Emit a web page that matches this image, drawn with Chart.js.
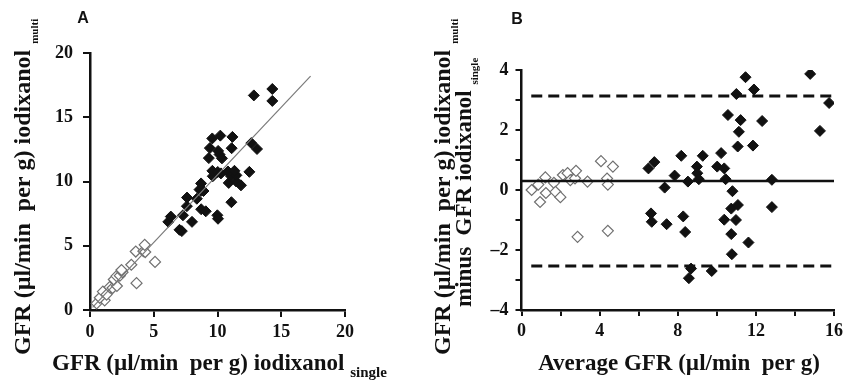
<!DOCTYPE html>
<html>
<head>
<meta charset="utf-8">
<script src="https://cdn.jsdelivr.net/npm/chart.js@4.4.1/dist/chart.umd.min.js"></script>
<style>
    body { margin: 0; background: #fff; }
    #wrap { position: relative; width: 848px; height: 383px; }
    canvas { position: absolute; top: 0; }
    #chartA { left: 0; }
    #chartB { left: 424px; }
</style>
</head>
<body>
<div id="wrap">
    <canvas id="chartA" width="424" height="383"></canvas>
    <canvas id="chartB" width="424" height="383"></canvas>
</div>
<script>
// Panel A: GFR multi vs GFR single
const singleOpen = [0.52, 1.15, 0.77, 1.01, 1.3, 1.54, 1.77, 2.11, 1.87, 2.08, 2.34, 2.55, 2.47, 3.65, 3.24, 3.59, 4.19, 4.33, 4.29, 5.1];
const multiOpen  = [0.52, 0.75, 0.95, 1.43, 1.2, 1.78, 1.71, 1.87, 2.37, 2.64, 2.67, 2.94, 3.11, 2.09, 3.52, 4.55, 4.57, 4.51, 5.07, 3.74];
const singleFilled = [6.14, 6.34, 7.02, 7.2, 7.29, 8.0, 7.6, 7.61, 8.72, 9.08, 8.38, 9.99, 10.04, 8.59, 8.72, 8.9, 8.71, 11.09, 9.63, 9.6, 10.02, 10.27,
    9.32, 10.88, 10.82, 11.05, 11.47, 11.84, 9.4, 10.16, 10.35, 10.05, 11.48, 11.33, 9.59, 12.5, 10.22, 11.11, 11.17, 12.65, 13.1, 12.85, 14.3, 14.3];
const multiFilled  = [6.86, 7.27, 6.24, 6.14, 7.37, 6.86, 8.08, 8.75, 7.84, 7.68, 8.66, 7.37, 7.1, 9.37, 9.28, 9.26, 9.85, 8.39, 10.41, 10.83, 10.74, 10.63,
    11.82, 9.89, 10.78, 10.43, 10.0, 9.7, 12.6, 12.1, 11.8, 12.38, 10.48, 10.83, 13.35, 10.75, 13.57, 12.59, 13.47, 12.99, 12.53, 16.7, 16.27, 17.2];
const fitLineX = [0.2, 17.3];
const fitLineY = [0.2, 18.2];
const ticksA = [0, 5, 10, 15, 20];

// Panel B: Bland-Altman
const avgOpen  = [0.52, 0.95, 0.86, 1.22, 1.25, 1.66, 1.74, 1.99, 2.12, 2.36, 2.5, 2.74, 2.79, 2.87, 3.38, 4.07, 4.38, 4.42, 4.68, 4.42];
const diffOpen = [0.0, -0.4, 0.18, 0.42, -0.1, 0.24, -0.06, -0.24, 0.5, 0.56, 0.33, 0.39, 0.64, -1.56, 0.28, 0.96, 0.38, 0.18, 0.78, -1.36];
const avgFilled  = [6.5, 6.8, 6.63, 6.67, 7.33, 7.43, 7.84, 8.18, 8.28, 8.38, 8.52, 8.68, 8.57, 8.98, 9.0, 9.08, 9.28, 9.74, 10.02, 10.22, 10.38, 10.45,
    10.57, 10.38, 10.8, 10.74, 10.74, 10.77, 11.0, 11.13, 11.07, 11.22, 10.98, 11.08, 11.47, 11.62, 11.9, 11.85, 12.32, 12.82, 12.82, 14.78, 15.28, 15.75];
const diffFilled = [0.72, 0.93, -0.78, -1.06, 0.08, -1.14, 0.48, 1.14, -0.88, -1.4, 0.28, -2.62, -2.94, 0.78, 0.56, 0.36, 1.14, -2.7, 0.78, 1.23, 0.72, 0.36,
    2.5, -0.99, -0.04, -0.62, -1.47, -2.14, 3.2, 1.94, 1.45, 2.33, -1.0, -0.5, 3.76, -1.75, 3.35, 1.48, 2.3, 0.34, -0.57, 3.87, 1.97, 2.9];
const meanDiff = 0.3;
const upperLoA = 3.13;
const lowerLoA = -2.53;
const ticksBx = [0, 2, 4, 6, 8, 10, 12, 14, 16];
const labelsBx = [0, 4, 8, 12, 16];
const ticksBy = [-4, -3, -2, -1, 0, 1, 2, 3, 4];
const labelsBy = [-4, -2, 0, 2, 4];

const INK = '#111';
const SERIF = '"Liberation Serif", "Times New Roman", serif';

function zip(xs, ys) {
    return xs.map((x, i) => ({ x: x, y: ys[i] }));
}

function fmt(v) {
    return v < 0 ? '\u2013' + Math.abs(v) : String(v);
}

function axis(min, max, tickList, labelList, size, tickLen, pad) {
    return {
        type: 'linear',
        min: min,
        max: max,
        afterBuildTicks: (scale) => { scale.ticks = tickList.map(v => ({ value: v })); },
        afterFit: (scale) => {
            if (scale.isHorizontal()) scale.height = size; else scale.width = size;
        },
        border: { display: true, color: INK, width: 2.5 },
        grid: { display: true, drawOnChartArea: false, drawTicks: true, tickLength: tickLen, color: INK, lineWidth: 2 },
        ticks: {
            autoSkip: false,
            maxRotation: 0,
            padding: pad,
            color: INK,
            font: { family: SERIF, size: 18, weight: 'bold' },
            callback: (v) => labelList.includes(v) ? fmt(v) : ''
        }
    };
}

function drawTitle(ctx, x, y, main, sub, size, subSize, drop, vertical) {
    ctx.save();
    ctx.translate(x, y);
    if (vertical) ctx.rotate(-Math.PI / 2);
    ctx.fillStyle = INK;
    ctx.textAlign = 'left';
    ctx.textBaseline = 'alphabetic';
    ctx.font = 'bold ' + size + 'px ' + SERIF;
    ctx.fillText(main, 0, 0);
    if (sub) {
        const w = ctx.measureText(main + ' ').width;
        ctx.font = 'bold ' + subSize + 'px ' + SERIF;
        ctx.fillText(sub, w, drop);
    }
    ctx.restore();
}

function panelLabel(ctx, text, x, y) {
    ctx.save();
    ctx.fillStyle = INK;
    ctx.font = 'bold 16px "Liberation Sans", Arial, sans-serif';
    ctx.textAlign = 'center';
    ctx.textBaseline = 'middle';
    ctx.fillText(text, x, y);
    ctx.restore();
}

const openStyle = {
    pointStyle: 'rectRot', pointRadius: 5.5, borderWidth: 1.2,
    borderColor: '#707070', backgroundColor: '#fff', showLine: false
};
const filledStyle = {
    pointStyle: 'rectRot', pointRadius: 5.5, borderWidth: 1,
    borderColor: INK, backgroundColor: INK, showLine: false
};

const common = {
    responsive: false,
    animation: false,
    devicePixelRatio: 1,
    plugins: { legend: { display: false }, tooltip: { enabled: false } }
};

// Panel A
new Chart(document.getElementById('chartA'), {
    type: 'scatter',
    data: {
        datasets: [
            { ...filledStyle, data: zip(singleFilled, multiFilled), order: 2 },
            { ...openStyle, data: zip(singleOpen, multiOpen), order: 1 },
            {
                type: 'line', data: zip(fitLineX, fitLineY), order: 0,
                borderColor: '#7a7a7a', borderWidth: 1.2, pointRadius: 0, fill: false
            }
        ]
    },
    options: {
        ...common,
        layout: { padding: { left: 0, right: 79, top: 53, bottom: 43 } },
        scales: {
            x: axis(0, 20, ticksA, ticksA, 30, 7, 5),
            y: axis(0, 20, ticksA, ticksA, 90, 7, 10)
        }
    },
    plugins: [{
        id: 'titlesA',
        afterDraw(chart) {
            const ctx = chart.ctx;
            panelLabel(ctx, 'A', 83, 19);
            drawTitle(ctx, 52, 370, 'GFR (\u00b5l/min  per g) iodixanol', 'single', 23, 15, 7, false);
            drawTitle(ctx, 30, 355, 'GFR (\u00b5l/min  per g) iodixanol', 'multi', 24, 11, 8, true);
        }
    }]
});

// Panel B
new Chart(document.getElementById('chartB'), {
    type: 'scatter',
    data: {
        datasets: [
            { ...filledStyle, data: zip(avgFilled, diffFilled), order: 2 },
            { ...openStyle, data: zip(avgOpen, diffOpen), order: 1 },
            {
                type: 'line', data: [{ x: 0, y: meanDiff }, { x: 16, y: meanDiff }], order: 0,
                borderColor: INK, borderWidth: 2.5, pointRadius: 0, fill: false
            },
            {
                type: 'line', data: [{ x: 0.5, y: upperLoA }, { x: 16, y: upperLoA }], order: 0,
                borderColor: INK, borderWidth: 3, borderDash: [11, 6], pointRadius: 0, fill: false
            },
            {
                type: 'line', data: [{ x: 0.5, y: lowerLoA }, { x: 16, y: lowerLoA }], order: 0,
                borderColor: INK, borderWidth: 3, borderDash: [11, 6], pointRadius: 0, fill: false
            }
        ]
    },
    options: {
        ...common,
        layout: { padding: { left: 0, right: 13, top: 70, bottom: 43 } },
        scales: {
            x: axis(0, 16, ticksBx, labelsBx, 30, 6, 5),
            y: axis(-4, 4, ticksBy, labelsBy, 97.5, 6, 7)
        }
    },
    plugins: [{
        id: 'titlesB',
        afterDraw(chart) {
            const ctx = chart.ctx;
            panelLabel(ctx, 'B', 93, 20);
            ctx.save();
            ctx.fillStyle = INK;
            ctx.font = 'bold 23px ' + SERIF;
            ctx.textAlign = 'center';
            ctx.fillText('Average GFR (\u00b5l/min  per g)', 255, 370);
            ctx.restore();
            drawTitle(ctx, 26, 355, 'GFR (\u00b5l/min  per g) iodixanol', 'multi', 24, 11, 8, true);
            drawTitle(ctx, 47, 307, 'minus  GFR iodixanol', 'single', 23, 11, 7, true);
        }
    }]
});
</script>
</body>
</html>
